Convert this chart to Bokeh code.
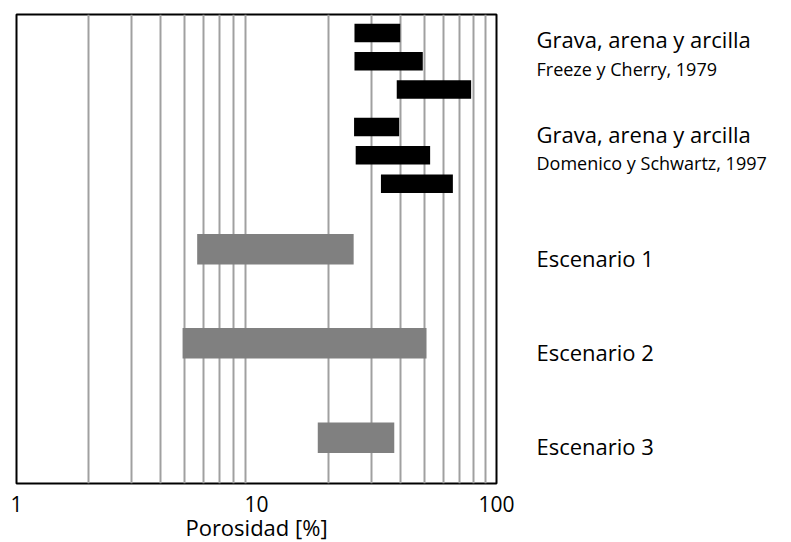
from bokeh.plotting import figure
from bokeh.models import Range1d, FixedTicker
from bokeh.layouts import row, column
from bokeh.core.properties import value
from bokeh.embed import file_html
from bokeh.resources import INLINE

# ---- data (porosity ranges, %) ----
black_lo = [25.6, 25.6, 38.4, 25.5, 25.9, 33.0]
black_hi = [39.7, 49.3, 78.4, 39.3, 52.9, 65.8]
gray_lo = [5.66, 4.92, 18.0]
gray_hi = [25.4, 51.1, 37.5]
group_titles = ["Grava, arena y arcilla", "Grava, arena y arcilla"]
group_sources = ["Freeze y Cherry, 1979", "Domenico y Schwartz, 1997"]
scenario_names = ["Escenario 1", "Escenario 2", "Escenario 3"]
major_ticks = [1, 10, 100]
major_labels = ["1", "10", "100"]
grid_ticks = [2, 3, 4, 5, 6, 7, 8, 9, 20, 30, 40, 50, 60, 70, 80, 90]
x_title = "Porosidad [%]"

# ---- layout (vertical rows, frame units: 0 at top) ----
black_y = [18.5, 46.8, 75.0, 112.5, 140.8, 169.2]
gray_y = [234.7, 328.8, 423.2]
title_y = [24.5, 119.0]
source_y = [54.5, 148.5]
scen_y = [243.5, 337.5, 431.5]
label_x = 16

FONT = "Open Sans"
LEFT_W, TOTAL_W = 520, 791
FL, FR = 16, 24            # left/right borders of the plot frame
TOP = 14
FRAME_H = 469
MAIN_H = TOP + FRAME_H + 2
STRIP_H = 542 - MAIN_H
yr = Range1d(FRAME_H, 0)

# ---- main plot ----
p = figure(width=LEFT_W, height=MAIN_H, x_axis_type="log",
           x_range=Range1d(1, 100), y_range=yr,
           output_backend="svg", toolbar_location=None,
           min_border_left=FL, min_border_right=FR,
           min_border_top=TOP, min_border_bottom=2)
p.outline_line_color = "black"
p.outline_line_width = 2
p.background_fill_color = "white"
p.border_fill_color = "white"
p.xaxis.visible = False
p.yaxis.visible = False
p.ygrid.visible = False
p.xgrid.ticker = FixedTicker(ticks=grid_ticks)
p.xgrid.grid_line_color = "#a0a0a0"
p.xgrid.grid_line_width = 2

p.hbar(y=black_y, left=black_lo, right=black_hi, height=18.4,
       fill_color="black", line_color=None)
p.hbar(y=gray_y, left=gray_lo, right=gray_hi, height=30.6,
       fill_color="#808080", line_color=None)

# ---- right-hand label panel (same vertical scale) ----
q = figure(width=TOTAL_W - LEFT_W, height=MAIN_H, x_range=Range1d(0, TOTAL_W - LEFT_W),
           y_range=yr, output_backend="svg", toolbar_location=None,
           min_border_left=0, min_border_right=0,
           min_border_top=TOP, min_border_bottom=2)
q.axis.visible = False
q.grid.visible = False
q.outline_line_color = None
q.background_fill_color = "white"
q.border_fill_color = "white"

q.text(x=[label_x] * 2, y=title_y, text=group_titles,
       text_font=value(FONT), text_font_size="22px", text_color="black",
       text_baseline="middle")
q.text(x=[label_x] * 2, y=source_y, text=group_sources,
       text_font=value(FONT), text_font_size="18px", text_color="black",
       text_baseline="middle")
q.text(x=[label_x] * 3, y=scen_y, text=scenario_names,
       text_font=value(FONT), text_font_size="22px", text_color="black",
       text_baseline="middle")

# ---- bottom strip: x tick labels and axis title on the same log scale ----
decade_px = (LEFT_W - FL - FR) / 2.0
lo = 10 ** (-FL / decade_px)
hi = 10 ** ((LEFT_W - FL) / decade_px)
r = figure(width=LEFT_W, height=STRIP_H, x_axis_type="log",
           x_range=Range1d(lo, hi), y_range=Range1d(STRIP_H, 0),
           output_backend="svg", toolbar_location=None,
           min_border_left=0, min_border_right=0,
           min_border_top=0, min_border_bottom=0)
r.axis.visible = False
r.grid.visible = False
r.outline_line_color = None
r.background_fill_color = "white"
r.border_fill_color = "white"

r.text(x=major_ticks, y=[18.5] * len(major_ticks), text=major_labels,
       text_font=value(FONT), text_font_size="21px", text_color="black",
       text_align="center", text_baseline="middle")
r.text(x=[10], y=[41.5], text=[x_title],
       text_font=value(FONT), text_font_size="22px", text_color="black",
       text_align="center", text_baseline="middle")

layout = column(row(p, q, spacing=0), r, spacing=0)
open("out.html", "w").write(file_html(layout, INLINE))
